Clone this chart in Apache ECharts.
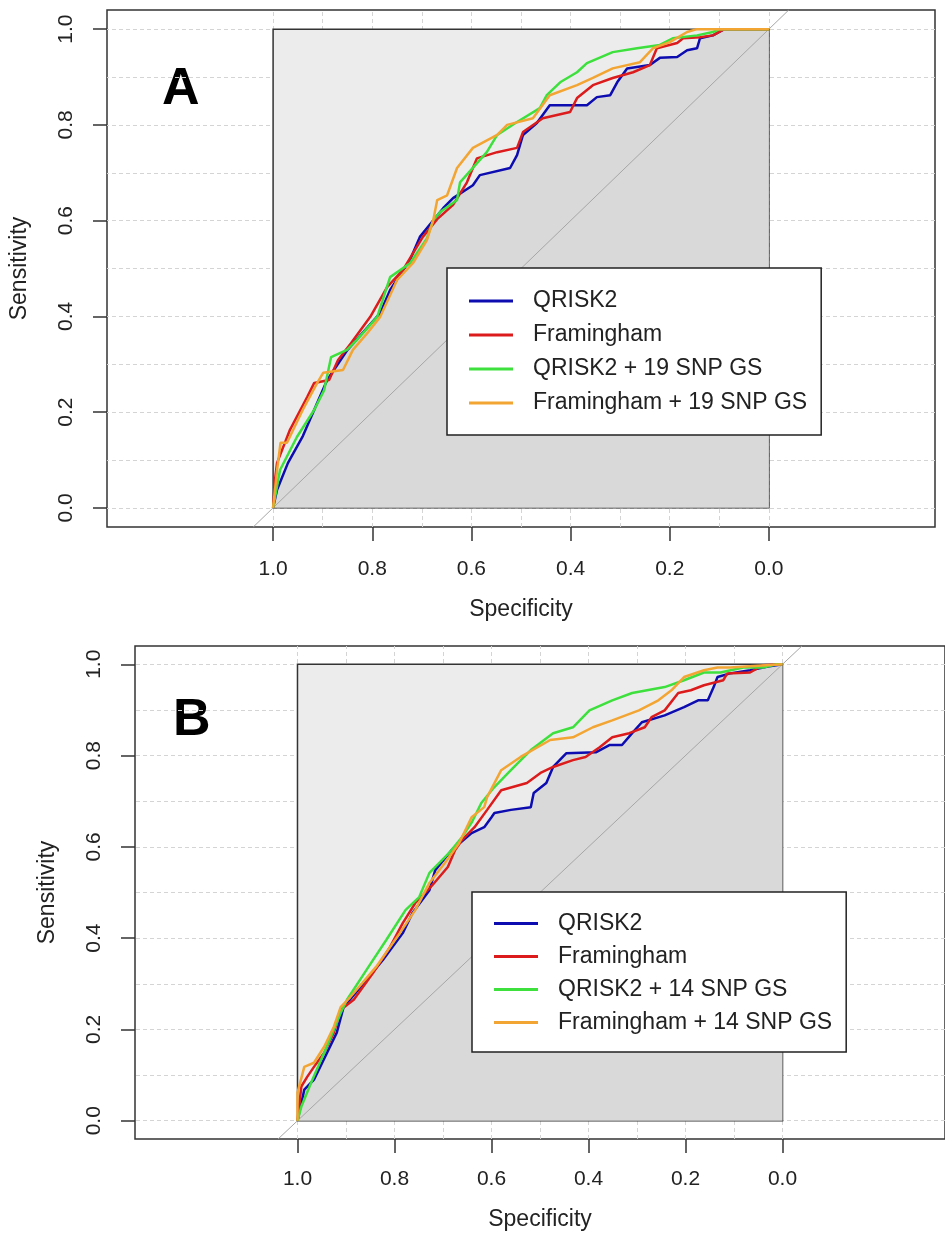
<!DOCTYPE html>
<html>
<head>
<meta charset="utf-8">
<script src="https://cdn.jsdelivr.net/npm/echarts@6/dist/echarts.min.js"></script>
<style>
html, body { margin: 0; padding: 0; background: #fff; }
#chart { width: 945px; height: 1235px; }
</style>
</head>
<body>
<div id="chart"></div>
<script>
// tick labels and grid steps (both panels)
var tickValues = [0, 0.2, 0.4, 0.6, 0.8, 1.0];
var gridValues = [0, 0.1, 0.2, 0.3, 0.4, 0.5, 0.6, 0.7, 0.8, 0.9, 1.0];

// legend names
var namesA = ['QRISK2', 'Framingham', 'QRISK2 + 19 SNP GS', 'Framingham + 19 SNP GS'];
var namesB = ['QRISK2', 'Framingham', 'QRISK2 + 14 SNP GS', 'Framingham + 14 SNP GS'];

// panel A curves, [specificity, sensitivity]
var rocA_qrisk = [[1,0],[0.992,0.038],[0.97,0.094],[0.94,0.15],[0.917,0.205],[0.891,0.267],[0.85,0.33],[0.784,0.407],[0.764,0.455],[0.724,0.518],[0.704,0.566],[0.657,0.626],[0.637,0.647],[0.597,0.674],[0.583,0.695],[0.522,0.71],[0.508,0.737],[0.496,0.779],[0.468,0.804],[0.442,0.841],[0.367,0.841],[0.347,0.858],[0.32,0.862],[0.306,0.889],[0.286,0.918],[0.24,0.925],[0.22,0.94],[0.185,0.942],[0.165,0.956],[0.145,0.96],[0.139,0.981],[0.113,0.987],[0.09,1],[0,1]];
var rocA_fram = [[1,0],[0.996,0.06],[0.992,0.094],[0.966,0.163],[0.931,0.232],[0.917,0.261],[0.887,0.267],[0.869,0.309],[0.843,0.344],[0.804,0.399],[0.77,0.461],[0.738,0.497],[0.698,0.566],[0.669,0.603],[0.637,0.633],[0.609,0.68],[0.589,0.73],[0.548,0.743],[0.508,0.752],[0.496,0.785],[0.456,0.814],[0.401,0.827],[0.387,0.856],[0.355,0.883],[0.315,0.898],[0.274,0.91],[0.24,0.925],[0.226,0.96],[0.185,0.971],[0.173,0.981],[0.139,0.983],[0.113,0.987],[0.09,1],[0,1]];
var rocA_qriskGS = [[1,0],[0.986,0.079],[0.952,0.148],[0.917,0.205],[0.897,0.246],[0.883,0.315],[0.851,0.33],[0.831,0.351],[0.79,0.399],[0.764,0.482],[0.724,0.511],[0.69,0.562],[0.677,0.601],[0.663,0.618],[0.629,0.643],[0.623,0.68],[0.569,0.743],[0.548,0.779],[0.508,0.806],[0.462,0.835],[0.448,0.862],[0.421,0.889],[0.387,0.91],[0.367,0.929],[0.315,0.952],[0.266,0.96],[0.22,0.967],[0.194,0.981],[0.145,0.987],[0.113,0.994],[0.099,1],[0,1]];
var rocA_framGS = [[1,0],[0.992,0.079],[0.985,0.136],[0.972,0.136],[0.94,0.205],[0.911,0.261],[0.899,0.282],[0.859,0.288],[0.839,0.33],[0.81,0.365],[0.784,0.399],[0.75,0.476],[0.718,0.511],[0.69,0.559],[0.677,0.601],[0.669,0.643],[0.649,0.653],[0.629,0.71],[0.597,0.752],[0.548,0.779],[0.528,0.8],[0.476,0.814],[0.442,0.862],[0.387,0.883],[0.355,0.898],[0.315,0.918],[0.26,0.931],[0.234,0.96],[0.2,0.973],[0.165,0.994],[0.145,1],[0,1]];

// panel B curves, [specificity, sensitivity]
var rocB_qrisk = [[1,0],[0.986,0.068],[0.966,0.09],[0.939,0.149],[0.919,0.193],[0.905,0.249],[0.87,0.293],[0.824,0.352],[0.783,0.411],[0.763,0.455],[0.728,0.505],[0.716,0.549],[0.682,0.593],[0.641,0.63],[0.615,0.643],[0.6,0.665],[0.594,0.674],[0.56,0.681],[0.519,0.687],[0.513,0.718],[0.487,0.74],[0.473,0.775],[0.446,0.805],[0.385,0.807],[0.357,0.823],[0.331,0.823],[0.31,0.849],[0.29,0.873],[0.243,0.888],[0.203,0.906],[0.174,0.921],[0.154,0.921],[0.142,0.95],[0.134,0.972],[0.108,0.98],[0.067,0.987],[0.03,0.995],[0,1]];
var rocB_fram = [[1,0],[0.992,0.075],[0.98,0.096],[0.966,0.118],[0.945,0.149],[0.925,0.193],[0.911,0.243],[0.884,0.265],[0.844,0.324],[0.809,0.381],[0.783,0.433],[0.757,0.477],[0.722,0.516],[0.69,0.556],[0.675,0.593],[0.661,0.615],[0.635,0.643],[0.609,0.681],[0.58,0.724],[0.527,0.74],[0.499,0.762],[0.473,0.775],[0.432,0.79],[0.406,0.797],[0.377,0.818],[0.351,0.84],[0.316,0.849],[0.284,0.862],[0.27,0.884],[0.243,0.899],[0.215,0.937],[0.189,0.943],[0.162,0.954],[0.122,0.965],[0.114,0.98],[0.067,0.982],[0.04,0.998],[0,1]];
var rocB_qriskGS = [[1,0],[0.992,0.031],[0.972,0.083],[0.945,0.149],[0.925,0.2],[0.911,0.236],[0.898,0.265],[0.858,0.33],[0.817,0.396],[0.777,0.462],[0.749,0.49],[0.728,0.543],[0.702,0.571],[0.688,0.586],[0.661,0.621],[0.64,0.655],[0.621,0.696],[0.594,0.731],[0.56,0.768],[0.519,0.812],[0.473,0.849],[0.432,0.862],[0.398,0.899],[0.351,0.921],[0.31,0.937],[0.243,0.95],[0.203,0.965],[0.162,0.982],[0.128,0.982],[0.081,0.993],[0.04,0.993],[0.012,1],[0,1]];
var rocB_framGS = [[1,0],[1,0.061],[0.986,0.118],[0.966,0.127],[0.945,0.162],[0.925,0.206],[0.911,0.249],[0.891,0.271],[0.838,0.337],[0.789,0.411],[0.757,0.462],[0.728,0.521],[0.696,0.565],[0.667,0.608],[0.641,0.665],[0.615,0.687],[0.609,0.709],[0.58,0.768],[0.54,0.797],[0.479,0.834],[0.432,0.84],[0.391,0.862],[0.351,0.877],[0.296,0.899],[0.256,0.921],[0.229,0.943],[0.203,0.972],[0.162,0.987],[0.134,0.993],[0.108,0.993],[0.05,0.997],[0,1]];

var colors = ['#0c0cb0', '#dc1c1c', '#3ee03e', '#f3a533'];
var font = 'Liberation Sans, Arial, sans-serif';

var chart = echarts.init(document.getElementById('chart'));

function makeAxes(gi, lab) {
    var x = {
        gridIndex: gi, type: 'value', inverse: true, min: -0.335, max: 1.335,
        splitLine: { show: false },
        axisLine: { show: false, onZero: false },
        axisTick: { show: true, customValues: tickValues, length: 14, lineStyle: { color: '#333', width: 1.5 } },
        axisLabel: { customValues: tickValues, formatter: function (v) { return v.toFixed(1); },
            fontSize: 21, color: '#222', fontFamily: font, margin: lab.xMargin },
        name: 'Specificity', nameLocation: 'middle', nameGap: lab.xNameGap,
        nameTextStyle: { fontSize: 23, color: '#222', fontFamily: font }
    };
    var y = {
        gridIndex: gi, type: 'value', min: -0.04, max: 1.04,
        splitLine: { show: false },
        axisLine: { show: false, onZero: false },
        axisTick: { show: true, customValues: tickValues, length: 14, lineStyle: { color: '#333', width: 1.5 } },
        axisLabel: { customValues: tickValues, formatter: function (v) { return v.toFixed(1); }, rotate: 90,
            fontSize: 21, color: '#222', fontFamily: font, margin: 30 },
        name: 'Sensitivity', nameLocation: 'middle', nameGap: 76,
        nameTextStyle: { fontSize: 23, color: '#222', fontFamily: font }
    };
    return [x, y];
}

function makeSeries(gi, curves, names) {
    var s = [];
    // dashed grid
    s.push({
        type: 'line', xAxisIndex: gi, yAxisIndex: gi, z: 1, silent: true,
        data: [[1.04, -0.04]], showSymbol: false, lineStyle: { opacity: 0 },
        markLine: {
            silent: true, symbol: 'none', label: { show: false }, z: 1,
            lineStyle: { color: '#d4d4d4', type: [4, 3], width: 1 },
            data: gridValues.map(function (v) { return { yAxis: v }; })
                .concat(gridValues.map(function (v) { return { xAxis: v }; }))
        }
    });
    // full square
    s.push({
        type: 'line', xAxisIndex: gi, yAxisIndex: gi, z: 2, silent: true,
        data: [[1.04, -0.04]], showSymbol: false, lineStyle: { opacity: 0 },
        markArea: {
            silent: true, z: 2,
            itemStyle: { color: '#ececec', borderColor: '#333', borderWidth: 1.5, borderType: 'solid' },
            data: [[{ coord: [1, 0] }, { coord: [0, 1] }]]
        }
    });
    // auc polygon under first curve
    s.push({
        type: 'line', xAxisIndex: gi, yAxisIndex: gi, z: 3, silent: true,
        data: curves[0], showSymbol: false,
        lineStyle: { width: 0, opacity: 0 },
        areaStyle: { color: '#d9d9d9', opacity: 1 }
    });
    // chance line
    s.push({
        type: 'line', xAxisIndex: gi, yAxisIndex: gi, z: 4, silent: true,
        data: [[1.04, -0.04], [-0.04, 1.04]], showSymbol: false,
        lineStyle: { color: '#a6a6a6', width: 1 }
    });
    for (var i = 0; i < curves.length; i++) {
        s.push({
            name: names[i], type: 'line', xAxisIndex: gi, yAxisIndex: gi, z: 5,
            data: curves[i], showSymbol: false, color: colors[i],
            lineStyle: { color: colors[i], width: 2.5 }
        });
    }
    return s;
}

function makeLegend(names, left, top, lh, pad) {
    return {
        data: names, left: left, top: top, orient: 'vertical', selectedMode: false, z: 10,
        backgroundColor: '#fff', borderColor: '#222', borderWidth: 1.5, borderRadius: 0,
        padding: pad, itemGap: 0, itemWidth: 44, itemHeight: 3, icon: 'rect',
        textStyle: { fontSize: 23, color: '#222', fontFamily: font, lineHeight: lh, padding: [0, 0, 0, 15] }
    };
}

var axA = makeAxes(0, { xMargin: 32, xNameGap: 71 });
var axB = makeAxes(1, { xMargin: 30, xNameGap: 69 });

chart.setOption({
    animation: false,
    grid: [
        { left: 107, top: 10, width: 828, height: 517, show: true, borderColor: '#333', borderWidth: 1.5, backgroundColor: 'transparent' },
        { left: 135, top: 646, width: 823, height: 493, show: true, borderColor: '#333', borderWidth: 1.5, backgroundColor: 'transparent' }
    ],
    xAxis: [axA[0], axB[0]],
    yAxis: [axA[1], axB[1]],
    legend: [
        makeLegend(namesA, 447, 268, 34, [16, 14, 15, 22]),
        makeLegend(namesB, 472, 892, 33, [15, 14, 13, 22])
    ],
    graphic: [
        { type: 'text', left: 162, top: 64, style: { text: 'A', font: 'bold 52px Liberation Sans, Arial', fill: '#000' } },
        { type: 'text', left: 173, top: 695, style: { text: 'B', font: 'bold 52px Liberation Sans, Arial', fill: '#000' } }
    ],
    series: makeSeries(0, [rocA_qrisk, rocA_fram, rocA_qriskGS, rocA_framGS], namesA)
        .concat(makeSeries(1, [rocB_qrisk, rocB_fram, rocB_qriskGS, rocB_framGS], namesB))
});
</script>
</body>
</html>
